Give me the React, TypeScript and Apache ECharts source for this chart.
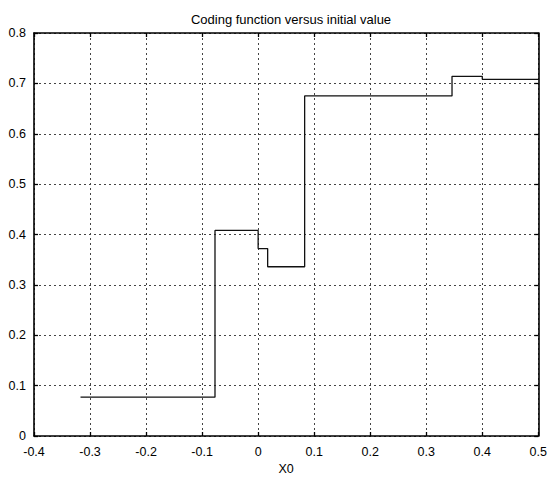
import React, { useEffect, useRef } from "react";
import * as echarts from "echarts";

// Step-function breakpoints (x = X0, y = coding function value); each value holds until the next x
const stepX = [-0.317, -0.077, 0.0, 0.017, 0.083, 0.346, 0.4, 0.5];
const stepY = [0.077, 0.408, 0.372, 0.336, 0.675, 0.714, 0.708, 0.708];

const titleText = "Coding function versus initial value";
const xName = "X0";

const FONT = "'Liberation Sans', Arial, sans-serif";

export default function App() {
  const ref = useRef<HTMLDivElement>(null);
  useEffect(() => {
    if (!ref.current) return;
    const chart = echarts.init(ref.current, undefined, { renderer: "svg" });
    const data = stepX.map((x, i) => [x, stepY[i]]);
    const gridLine = { show: true, lineStyle: { color: "#444", type: [2, 3] as any, width: 1 } };
    const baseX = {
      type: "value" as const,
      min: -0.4,
      max: 0.5,
      interval: 0.1,
      axisLine: { show: true, onZero: false, lineStyle: { color: "#000", width: 1.6 } },
      axisTick: { show: true, inside: true, length: 4, lineStyle: { color: "#000", width: 1.3 } },
    };
    const baseY = {
      type: "value" as const,
      min: 0,
      max: 0.8,
      interval: 0.1,
      axisLine: { show: true, onZero: false, lineStyle: { color: "#000", width: 1.6 } },
      axisTick: { show: true, inside: true, length: 4, lineStyle: { color: "#000", width: 1.3 } },
    };
    chart.setOption({
      animation: false,
      backgroundColor: "#fff",
      title: {
        text: titleText,
        left: 286,
        top: 8,
        textAlign: "center",
        textStyle: { fontSize: 13, fontWeight: "normal", color: "#000", fontFamily: FONT },
      },
      grid: { left: 34, right: 11, top: 33, bottom: 47, containLabel: false },
      xAxis: [
        {
          ...baseX,
          position: "bottom",
          name: xName,
          nameLocation: "middle",
          nameGap: 26,
          nameTextStyle: { fontSize: 12.5, color: "#000", fontFamily: FONT },
          axisLabel: { color: "#000", fontSize: 12.5, margin: 9, fontFamily: FONT },
          splitLine: gridLine,
        },
        {
          ...baseX,
          position: "top",
          axisLabel: { show: false },
          splitLine: { show: false },
        },
      ],
      yAxis: [
        {
          ...baseY,
          position: "left",
          axisLabel: { color: "#000", fontSize: 12.5, margin: 8, fontFamily: FONT },
          splitLine: gridLine,
        },
        {
          ...baseY,
          position: "right",
          axisLabel: { show: false },
          splitLine: { show: false },
        },
      ],
      series: [
        {
          type: "line",
          xAxisIndex: 0,
          yAxisIndex: 0,
          step: "end",
          data,
          showSymbol: false,
          lineStyle: { color: "#111", width: 1.3 },
        },
      ],
    });
    return () => chart.dispose();
  }, []);
  return (
    <div
      ref={ref}
      style={{ position: "fixed", left: 0, top: 0, width: 550, height: 483, background: "#fff" }}
    />
  );
}
